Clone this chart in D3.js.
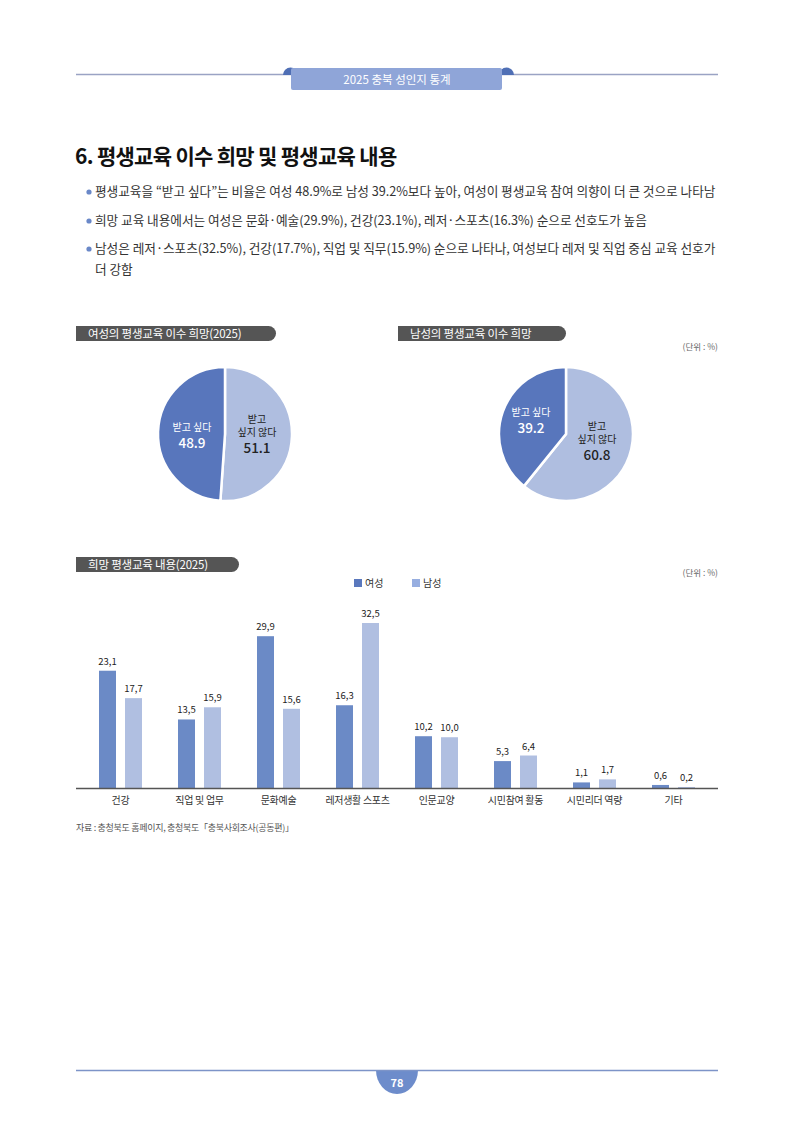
<!doctype html>
<html>
<head>
<meta charset="utf-8">
<script src="https://d3js.org/d3.v7.min.js"></script>
<style>
    html, body { margin: 0; padding: 0; background: #fff; }
    svg text { font-family: "Noto Sans CJK KR", "Noto Sans", sans-serif; }
</style>
</head>
<body>
<script>
    // data
    const categories = ["건강", "직업 및 업무", "문화예술", "레저생활 스포츠", "인문교양", "시민참여 활동", "시민리더 역량", "기타"];
    const femaleValues = [23.1, 13.5, 29.9, 16.3, 10.2, 5.3, 1.1, 0.6];
    const maleValues = [17.7, 15.9, 15.6, 32.5, 10.0, 6.4, 1.7, 0.2];
    const seriesNames = ["여성", "남성"];

    const pieLabels = ["받고 싶다", "받고 싶지 않다"];
    const femaleWish = [48.9, 51.1];
    const maleWish = [39.2, 60.8];

    const bullets = [
        "평생교육을 “받고 싶다”는 비율은 여성 48.9%로 남성 39.2%보다 높아, 여성이 평생교육 참여 의향이 더 큰 것으로 나타남",
        "희망 교육 내용에서는 여성은 문화·예술(29.9%), 건강(23.1%), 레저·스포츠(16.3%) 순으로 선호도가 높음",
        ["남성은 레저·스포츠(32.5%), 건강(17.7%), 직업 및 직무(15.9%) 순으로 나타나, 여성보다 레저 및 직업 중심 교육 선호가", "더 강함"]
    ];

    const W = 794, H = 1123;
    const svg = d3.select("body").append("svg")
        .attr("width", W)
        .attr("height", H);

    const darkBlue = "#5876bc", lightBlue = "#afbee0";
    const barDark = "#6b8ac6", barLight = "#b0bfe1";

    // ---- header ----
    svg.append("line").attr("x1", 76).attr("x2", 718).attr("y1", 74.5).attr("y2", 74.5)
        .attr("stroke", "#9aa3c4").attr("stroke-width", 1.5);
    svg.append("path").attr("d", "M283,75 A7.5,7.5 0 0 1 298,75 Z").attr("fill", "#4f6fb5");
    svg.append("path").attr("d", "M499,75 A7.5,7.5 0 0 1 514,75 Z").attr("fill", "#4f6fb5");
    svg.append("rect").attr("x", 291).attr("y", 68).attr("width", 211).attr("height", 22).attr("rx", 2)
        .attr("fill", "#8fa5d8");
    svg.append("text").attr("x", 397).attr("y", 83.5).attr("text-anchor", "middle")
        .attr("fill", "#fff").attr("font-size", 11.5).text("2025 충북 성인지 통계");

    // ---- title ----
    svg.append("text").attr("x", 75).attr("y", 164).attr("font-size", 21).attr("font-weight", 700)
        .attr("fill", "#111").attr("letter-spacing", -0.7).text("6. 평생교육 이수 희망 및 평생교육 내용");

    // ---- bullets ----
    const bulletY = [196, 225, 253];
    bullets.forEach((b, i) => {
        svg.append("circle").attr("cx", 89).attr("cy", bulletY[i] - 4).attr("r", 2.6).attr("fill", "#6a88c8");
        const lines = Array.isArray(b) ? b : [b];
        lines.forEach((l, j) => {
            svg.append("text").attr("x", 95).attr("y", bulletY[i] + j * 21)
                .attr("font-size", 12.7).attr("fill", "#333").attr("letter-spacing", -0.05).text(l);
        });
    });

    // ---- section label pills ----
    function pill(x, y, w, label) {
        const h = 15, r = 7.5;
        svg.append("path")
            .attr("d", `M${x},${y} H${x + w - r} A${r},${r} 0 0 1 ${x + w - r},${y + h} H${x} Z`)
            .attr("fill", "#555");
        svg.append("text").attr("x", x + 12).attr("y", y + 11.5).attr("fill", "#fff")
            .attr("font-size", 11.5).attr("letter-spacing", -0.2).text(label);
    }
    pill(76, 326, 200, "여성의 평생교육 이수 희망(2025)");
    pill(398, 326, 168, "남성의 평생교육 이수 희망");
    svg.append("text").attr("x", 718).attr("y", 350).attr("text-anchor", "end")
        .attr("font-size", 8.5).attr("fill", "#666").text("(단위 : %)");

    // ---- pies ----
    const pie = d3.pie().sort(null).startAngle(0).endAngle(2 * Math.PI);
    const arc = d3.arc().innerRadius(0).outerRadius(67);

    function drawPie(cx, cy, values, labelPos) {
        // light slice (싶지 않다) goes clockwise from the top, dark slice follows
        const order = [values[1], values[0]];
        const arcs = pie(order);
        const g = svg.append("g").attr("transform", `translate(${cx},${cy})`);
        g.selectAll("path").data(arcs).enter().append("path")
            .attr("d", arc)
            .attr("fill", (d, i) => i === 0 ? lightBlue : darkBlue)
            .attr("stroke", "#fff").attr("stroke-width", 2.5);

        // labels
        const [dx0, dy0, dx1, dy1] = labelPos;
        g.append("text").attr("x", dx0).attr("y", dy0).attr("text-anchor", "middle").attr("fill", "#fff")
            .attr("font-size", 10).text(pieLabels[0]);
        g.append("text").attr("x", dx0).attr("y", dy0 + 17).attr("text-anchor", "middle").attr("fill", "#fff")
            .attr("font-size", 13.5).attr("font-weight", 500).text(values[0].toFixed(1));
        const t2 = g.append("text").attr("text-anchor", "middle").attr("fill", "#222");
        t2.append("tspan").attr("x", dx1).attr("y", dy1).attr("font-size", 10).text("받고");
        t2.append("tspan").attr("x", dx1).attr("y", dy1 + 13).attr("font-size", 10).text("싶지 않다");
        t2.append("tspan").attr("x", dx1).attr("y", dy1 + 30).attr("font-size", 13.5).attr("font-weight", 500)
            .text(values[1].toFixed(1));
    }
    drawPie(225, 434, femaleWish, [-33, -3, 32, -11]);
    drawPie(566, 434, maleWish, [-35, -18, 31, -4]);

    // ---- bar chart ----
    pill(76, 557, 163, "희망 평생교육 내용(2025)");
    svg.append("text").attr("x", 718).attr("y", 576).attr("text-anchor", "end")
        .attr("font-size", 8.5).attr("fill", "#666").text("(단위 : %)");

    // legend
    const legend = svg.append("g");
    seriesNames.forEach((s, i) => {
        const lx = 354 + i * 58;
        legend.append("rect").attr("x", lx).attr("y", 579).attr("width", 8).attr("height", 8)
            .attr("fill", i === 0 ? "#5a78bd" : "#97aee0");
        legend.append("text").attr("x", lx + 11).attr("y", 587).attr("font-size", 10).attr("fill", "#333").text(s);
    });

    const baseY = 788;
    const x = d3.scaleBand().domain(categories).range([81, 713]);
    const y = d3.scaleLinear().domain([0, 32.5]).range([baseY, 623]);
    const barW = 17, gap = 9;

    const groups = svg.append("g").selectAll("g").data(categories).enter().append("g")
        .attr("transform", d => `translate(${x(d) + x.bandwidth() / 2},0)`);

    const fmt = v => v.toFixed(1).replace(".", ",");
    [femaleValues, maleValues].forEach((vals, si) => {
        const off = si === 0 ? -(barW + gap / 2) : gap / 2;
        groups.append("rect")
            .attr("x", off)
            .attr("y", (d, i) => y(vals[i]))
            .attr("width", barW)
            .attr("height", (d, i) => baseY - y(vals[i]))
            .attr("fill", si === 0 ? barDark : barLight);
        groups.append("text")
            .attr("x", off + barW / 2)
            .attr("y", (d, i) => y(vals[i]) - 6)
            .attr("text-anchor", "middle")
            .attr("font-size", 9.5).attr("fill", "#222")
            .text((d, i) => fmt(vals[i]));
    });

    // axis line and category labels
    const xAxis = svg.append("g").attr("transform", `translate(0,${baseY})`)
        .call(d3.axisBottom(x).tickSize(0).tickPadding(9));
    xAxis.select(".domain").remove();
    xAxis.selectAll("text").attr("font-size", 10).attr("fill", "#333")
        .attr("font-family", "'Noto Sans CJK KR', sans-serif").attr("letter-spacing", -0.3);
    svg.append("line").attr("x1", 76).attr("x2", 718).attr("y1", baseY + 0.5).attr("y2", baseY + 0.5)
        .attr("stroke", "#555").attr("stroke-width", 1.3);

    // source
    svg.append("text").attr("x", 76).attr("y", 831).attr("font-size", 9).attr("fill", "#555")
        .attr("letter-spacing", -0.3).text("자료 : 충청북도 홈페이지, 충청북도「충북사회조사(공동편)」");

    // ---- footer ----
    svg.append("path").attr("d", "M376,1070 A21,24 0 0 0 418,1070 Z").attr("fill", "#6d8ccb");
    svg.append("line").attr("x1", 76).attr("x2", 718).attr("y1", 1070.5).attr("y2", 1070.5)
        .attr("stroke", "#7d94c8").attr("stroke-width", 1.3);
    svg.append("text").attr("x", 397).attr("y", 1087).attr("text-anchor", "middle").attr("fill", "#fff")
        .attr("font-size", 11).attr("font-weight", 700).text("78");
</script>
</body>
</html>
